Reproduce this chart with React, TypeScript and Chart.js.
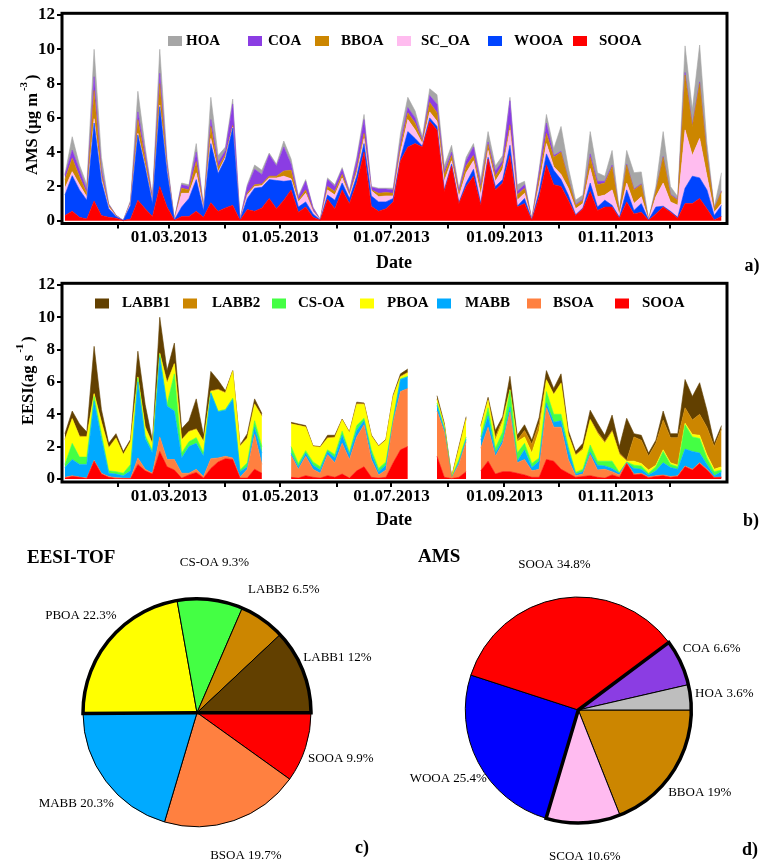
import React, { useEffect, useRef } from 'react';
import { Chart, registerables } from 'chart.js';

Chart.register(...registerables);

const FONT = "'Liberation Serif', 'Times New Roman', serif";

// ---- time axis (day of year 2013) ----
const FIRST_SAMPLE_DAY = 2; // 03.01.2013
const SAMPLE_STEP_DAYS = 4;
const MONTH_START_DAYS = [31, 59, 90, 120, 151, 181, 212, 243, 273, 304, 334];
const MONTH_TICK_LABELS = ['', '01.03.2013', '', '01.05.2013', '', '01.07.2013', '', '01.09.2013', '', '01.11.2013', ''];
const Y_TICKS = [0, 2, 4, 6, 8, 10, 12];

// ---- AMS factors (µg m-3) ----
const AMS_SOOA = [0.3,0.56,0.2,0.1,1.15,0.3,0.2,0.15,0.01,0.1, 1.2,0.7,0.25,2.0,0.8,0.03,0.25,0.25,0.56,0.2, 1.05,0.55,0.75,0.9,0.03,0.65,0.55,0.75,1.3,0.7, 1.2,1.8,0.5,0.8,0.2,0.03,1.25,0.7,1.8,1.0, 2.2,4.0,0.85,0.55,0.7,1.1,3.5,4.3,4.5,4.3, 5.8,5.3,1.7,3.2,1.0,2.0,2.6,0.9,3.6,1.8, 2.2,3.8,0.8,1.0,0.03,1.4,3.25,2.1,2.0,1.2, 0.3,0.7,1.7,0.6,0.8,0.8,0.15,1.1,0.4,0.5, 0.03,0.4,0.8,0.5,0.15,1.0,1.0,1.3,0.7,0.05, 0.25];
const AMS_WOOA = [1.2,2.07,1.6,1.1,4.55,2.0,0.5,0.1,0,0.8, 3.8,2.4,0.75,4.65,2.0,0.01,0.55,1.05,1.84,0.4, 3.45,2.2,2.85,4.5,0.01,0.65,1.35,1.2,1.1,1.65, 1.1,0.55,0.3,0.3,0.2,0.01,0.25,0.5,0.4,0.3, 0.4,0.5,0.6,0.55,0.4,0.2,0.15,0.9,0.3,0.05, 0.2,0.2,0.1,0.1,0.05,0.2,0.4,0.1,0.1,0.2, 0.2,0.6,0.05,0.3,0.01,0.3,0.65,0.85,0.4,0.3, 0.05,0.05,0.5,0.2,0.4,0.1,0.05,0.7,0.2,0.5, 0.01,0.4,0.05,0.05,0.05,0.9,1.6,1.2,1.1,0.25, 0.65];
const AMS_SC_OA = [0.4,0.23,0.3,0.18,0.25,0.15,0.1,0.03,0,0.1, 0.1,0.1,0.1,0.1,0.1,0.01,0.8,0.3,0.4,0.1, 0.3,0.1,0.1,0.05,0.01,0.2,0.1,0.1,0.1,0.15, 0.3,0.1,0.3,0.5,0.15,0.01,0.3,0.3,0.3,0.15, 0.2,0.3,0.3,0.3,0.35,0.15,0.35,0.7,0.5,0.15, 0.35,0.3,0.5,0.2,0.35,0.6,0.5,0.5,0.4,0.3, 0.6,0.9,0.35,0.3,0.01,0.4,0.6,0.2,0.3,0.4, 0.35,0.25,0.85,0.6,0.3,0.9,0.15,0.4,0.4,0.4, 0.01,0.6,1.35,0.55,0.7,3.4,1.2,2.3,0.8,0.2, 0.1];
const AMS_BBOA = [0.5,0.78,0.47,0.22,1.65,0.25,0.1,0.02,0,0.05, 0.8,0.4,0.1,1.25,0.2,0.01,0.3,0.2,0.65,0.05, 0.7,0.25,0.15,0.1,0.01,0.1,0.1,0.1,0.1,0.1, 0.3,0.5,0.1,0.2,0.05,0.01,0.2,0.2,0.2,0.1, 0.2,0.3,0.05,0.2,0.2,0.15,0.3,0.4,0.4,0.1, 0.55,0.5,0.4,0.3,0.2,0.4,0.3,0.4,0.35,0.3, 0.3,0.3,0.3,0.3,0.01,0.4,0.6,0.55,1.3,0.5, 0.2,0.2,0.65,0.7,0.7,1.35,0.15,1.05,0.8,0.7, 0.01,0.3,1.5,0.4,0.3,3.2,1.7,3.2,1.2,0.2, 0.7];
const AMS_COA = [0.25,0.48,0.39,0.2,0.8,0.3,0.05,0.02,0,0.05, 0.45,0.3,0.1,0.6,0.2,0.01,0.2,0.2,0.55,0.03, 0.4,0.3,0.25,1.25,0.01,0.4,0.9,0.55,1.25,0.6, 1.4,0.35,0.15,0.5,0.15,0.01,0.4,0.3,0.3,0.1, 0.5,0.8,0.15,0.25,0.2,0.2,0.3,0.3,0.3,0.1, 0.4,0.5,0.2,0.2,0.15,0.3,0.5,0.2,0.15,0.3, 0.2,1.4,0.2,0.2,0.01,0.3,0.6,0.1,0.05,0.05, 0.05,0.05,0.2,0.2,0.1,0.1,0.02,0.05,0.05,0.05, 0.01,0.02,0.05,0.05,0.05,0.15,0.1,0.1,0.05,0.02, 0.05];
const AMS_HOA = [0.05,0.78,0.29,0.3,1.6,0.7,0.05,0.01,0.01,0.1, 1.2,0.4,0.1,1.4,0.3,0.01,0.1,0.1,0.5,0.02, 1.3,0.4,0.2,0.3,0.01,0.1,0.25,0.25,0.1,0.1, 0.35,0.3,0.1,0.1,0.05,0.01,0.1,0.1,0.1,0.1, 0.2,0.3,0.05,0.05,0.05,0.1,0.5,0.6,0.4,0.2, 0.4,0.55,0.3,0.4,0.15,0.2,0.2,0.3,0.6,0.3, 0.3,0.2,0.4,0.2,0.01,0.2,0.5,0.4,1.45,0.65, 0.25,0.25,1.3,0.5,0.3,0.85,0.08,0.8,0.95,0.7, 0.01,0.28,1.45,0.45,0.15,1.55,0.9,2.15,0.65,0.08, 1.05];

// ---- EESI-TOF factors (ag s-1), null = no data ----
const EESI_SOOA = [0.05,0.15,0.1,0.02,1.1,0.3,0.1,0.03,0.02,0.02, 0.9,0.5,0.3,1.7,0.75,0.55,0.05,0.25,0.4,0.05, 0.65,1.05,1.25,1.2,0.05,0.05,0.6,0.35,null,null, null,0.1,0.05,0.2,0.1,0.05,0.2,0.1,0.3,0.05, 0.5,0.75,0.1,0.05,0.1,1.0,1.8,2.0,null,null, null,1.4,0.1,0.02,0.1,0.45,null,0.5,1.1,0.3, 0.45,0.45,0.35,0.25,0.1,0.1,1.2,1.1,0.6,0.35, 0.1,0.15,0.2,0.1,0.05,0.25,0.1,0.95,0.25,0.3, 0.08,0.15,0.2,0.1,0.15,0.75,0.55,0.95,0.55,0.08, 0.1];
const EESI_BSOA = [0.05,0.05,0.02,0.03,0.05,0.05,0.05,0.05,0.03,0.02, 0.4,0.1,0.05,0.9,0.45,0.65,0.3,0.1,0.2,0.1, 0.6,0.25,0.15,0.1,0.05,0.55,2.15,0.55,null,null, null,1.35,0.55,1.2,0.5,0.3,1.3,0.9,1.9,1.15, 2.1,2.6,1.1,0.2,0.45,2.5,3.6,3.6,null,null, null,2.8,2.8,0.03,0.8,1.85,null,1.4,2.1,1.1, 1.75,3.7,0.65,0.95,0.4,0.5,3.2,2.1,2.6,0.85, 0.1,0.15,1.3,0.45,0.55,0.2,0.15,0.05,0.05,0.05, 0.04,0.05,0.05,0.05,0.05,0.05,0.05,0.05,0.05,0.02, 0.02];
const EESI_MABB = [0.6,1.0,0.78,0.85,3.65,2.15,0.2,0.22,0.15,0.46, 4.7,1.9,1.25,4.9,3.3,3.0,0.95,1.65,1.6,1.25, 4.05,2.85,2.85,3.6,0.35,0.15,0.45,0.7,null,null, null,0.15,0.15,0.2,0.25,0.2,0.2,0.3,0.5,0.3, 0.4,0.25,0.35,0.2,0.3,0.1,0.75,0.7,null,null, null,0.35,0.15,0.01,0.15,0.15,null,0.5,0.7,0.2, 0.2,0.3,0.1,0.6,0.2,0.5,0.3,0.3,0.4,0.6, 0.1,0.15,0.15,0.3,0.2,0.2,0.1,0.02,0.35,0.25, 0.13,0.3,0.75,0.55,0.4,1.05,1.1,0.6,0.3,0.1, 0.33];
const EESI_CS_OA = [0.2,1.0,0.45,0.45,0.3,0.3,0.15,0.15,0.15,0.4, 0.25,0.2,0.15,0.2,0.1,2.3,0.3,0.3,0.35,0.2, 0.05,0.05,0.05,0.1,0.1,0.25,0.4,0.4,null,null, null,0.4,0.2,0.15,0.2,0.2,0.1,0.2,0.25,0.15, 0.3,0.15,0.25,0.2,0.2,0.15,0.05,0.05,null,null, null,0.15,0.1,0.01,0.15,0.15,null,0.2,0.5,0.3, 0.5,1.0,0.5,0.4,0.25,0.2,0.7,0.5,0.4,0.2, 0.1,0.15,0.45,0.25,0.3,0.45,0.05,0.03,0.2,0.2, 0.1,0.25,0.7,0.2,0.15,1.5,0.9,0.9,0.4,0.25, 0.1];
const EESI_PBOA = [1.5,1.5,1.25,1.25,0.15,0.7,1.4,2.05,1.15,1.4, 0.05,0.5,0.4,0.05,1.3,0.6,0.8,0.6,0.5,0.7, 0.05,1.3,1.0,1.65,1.45,1.5,1.0,1.85,null,null, null,1.4,2.35,1.45,0.95,1.2,0.7,1.05,0.7,1.2, 1.3,0.85,0.85,1.35,1.35,1.35,0.1,0.2,null,null, null,0.2,0.15,0.01,0.65,1.1,null,0.6,0.45,0.5, 0.65,0.05,0.7,0.4,0.65,1.7,0.7,1.2,1.9,0.7, 1.05,1.2,1.55,1.7,1.1,1.8,1.1,0.05,0.25,0.15, 0.2,0.1,0.1,0.1,0.1,0.1,0.15,0.2,0.2,0.15, 0.2];
const EESI_LABB2 = [0.05,0.05,0.05,0.02,0.05,0.05,0.05,0.05,0.02,0.02, 0.02,0.05,0.05,0.05,0.1,0.05,0.05,0.05,0.05,0.05, 0.05,0.05,0.05,0.03,0.05,0.05,0.05,0.05,null,null, null,0.02,0.02,0.02,0.02,0.02,0.05,0.05,0.02,0.02, 0.05,0.05,0.02,0.02,0.02,0.02,0.05,0.05,null,null, null,0.05,0.05,0.01,0.05,0.05,null,0.05,0.05,0.2, 0.15,0.05,0.1,0.4,0.55,0.45,0.05,0.05,0.05,0.05, 0.05,0.1,0.05,0.1,0.1,0.1,0.1,0.05,1.5,1.45, 0.85,1.35,1.85,1.55,1.7,0.95,0.9,1.3,1.7,1.4, 2.35];
const EESI_LABB1 = [0.35,0.45,0.75,0.28,2.9,0.75,0.25,0.25,0.18,0.13, 1.58,1.35,0.15,2.2,0.7,1.25,0.65,0.65,1.85,0.35, 1.2,0.55,0.1,0.02,0.05,0.25,0.3,0.15,null,null, null,0.08,0.08,0.08,0.03,0.03,0.15,0.1,0.03,0.03, 0.1,0.05,0.05,0.03,0.03,0.08,0.15,0.2,null,null, null,0.2,0.1,0.01,0.1,0.1,null,0.05,0.15,0.4, 0.15,0.8,0.3,0.35,0.25,0.35,0.55,0.35,0.55,0.25, 0.2,0.3,0.55,0.55,0.4,0.95,0.4,2.6,0.2,0.3, 0.2,0.2,0.55,0.25,0.25,1.75,1.45,1.95,1.05,0.2, 0.2];

// ---- pie charts (%) ----
const EESI_PIE_LABELS = ['SOOA', 'BSOA', 'MABB', 'PBOA', 'CS-OA', 'LABB2', 'LABB1'];
const EESI_PIE_VALUES = [9.9, 19.7, 20.3, 22.3, 9.3, 6.5, 12];
const AMS_PIE_LABELS = ['BBOA', 'SCOA', 'WOOA', 'SOOA', 'COA', 'HOA'];
const AMS_PIE_VALUES = [19, 10.6, 25.4, 34.8, 6.6, 3.6];

// ---- colours ----
const C = {
  hoa: '#a6a6a6', coa: '#8b3de3', bboa: '#cc8600', scoa: '#ffbcef', wooa: '#0044ff', sooa: '#ff0000',
  labb1: '#624000', labb2: '#cc8600', csoa: '#44ff44', pboa: '#ffff00', mabb: '#00aaff', bsoa: '#ff8040',
};

type Series = { label: string; values: (number | null)[]; color: string };

const AMS_SERIES: Series[] = [
  { label: 'SOOA', values: AMS_SOOA, color: C.sooa },
  { label: 'WOOA', values: AMS_WOOA, color: C.wooa },
  { label: 'SC_OA', values: AMS_SC_OA, color: C.scoa },
  { label: 'BBOA', values: AMS_BBOA, color: C.bboa },
  { label: 'COA', values: AMS_COA, color: C.coa },
  { label: 'HOA', values: AMS_HOA, color: C.hoa },
];
const EESI_SERIES: Series[] = [
  { label: 'SOOA', values: EESI_SOOA, color: C.sooa },
  { label: 'BSOA', values: EESI_BSOA, color: C.bsoa },
  { label: 'MABB', values: EESI_MABB, color: C.mabb },
  { label: 'CS-OA', values: EESI_CS_OA, color: C.csoa },
  { label: 'PBOA', values: EESI_PBOA, color: C.pboa },
  { label: 'LABB2', values: EESI_LABB2, color: C.labb2 },
  { label: 'LABB1', values: EESI_LABB1, color: C.labb1 },
];

function areaDatasets(series: Series[]) {
  return series.map((s, i) => ({
    label: s.label,
    data: s.values.map((v, k) => ({ x: FIRST_SAMPLE_DAY + SAMPLE_STEP_DAYS * k, y: v })),
    backgroundColor: s.color,
    borderColor: s.color,
    borderWidth: 0.6,
    pointRadius: 0,
    tension: 0,
    spanGaps: false,
    fill: i === 0 ? 'origin' : '-1',
  }));
}

type AreaDecor = {
  legend: { label: string; color: string; sx: number; tx: number }[];
  legendY: number;
  yMain: string; ySup: string; yX: number; yY: number;
  xTitleX: number; xTitleY: number;
  tag: string; tagX: number; tagY: number;
};

function areaDecorPlugin(cfg: AreaDecor) {
  return {
    id: 'areaDecor',
    afterDraw(chart: any) {
      const { ctx, chartArea: a } = chart;
      ctx.save();
      ctx.strokeStyle = '#000';
      ctx.lineWidth = 3;
      ctx.strokeRect(a.left, a.top, a.right - a.left, a.bottom - a.top);
      ctx.font = `bold 15px ${FONT}`;
      ctx.textBaseline = 'middle';
      ctx.textAlign = 'left';
      cfg.legend.forEach((it) => {
        ctx.fillStyle = it.color;
        ctx.fillRect(it.sx, cfg.legendY - 5, 14, 10);
        ctx.fillStyle = '#000';
        ctx.fillText(it.label, it.tx, cfg.legendY);
      });
      ctx.font = `bold 18px ${FONT}`;
      ctx.textAlign = 'center';
      ctx.fillText('Date', cfg.xTitleX, cfg.xTitleY);
      ctx.fillText(cfg.tag, cfg.tagX, cfg.tagY);
      ctx.translate(cfg.yX, cfg.yY);
      ctx.rotate(-Math.PI / 2);
      ctx.textAlign = 'left';
      ctx.textBaseline = 'alphabetic';
      ctx.font = `bold 16.5px ${FONT}`;
      ctx.fillText(cfg.yMain, 0, 0);
      const w = ctx.measureText(cfg.yMain).width;
      ctx.font = `bold 11px ${FONT}`;
      ctx.fillText(cfg.ySup, w + 2, -10);
      const w2 = ctx.measureText(cfg.ySup).width;
      ctx.font = `bold 16.5px ${FONT}`;
      ctx.fillText(')', w + w2 + 4, 0);
      ctx.restore();
    },
  };
}

function areaConfig(series: Series[], yMin: number, yMax: number, padTop: number, xHeight: number, decor: AreaDecor) {
  const tickFont = { size: 17, weight: 'bold' as const, family: FONT };
  return {
    type: 'line' as const,
    data: { datasets: areaDatasets(series) },
    options: {
      animation: false as const,
      responsive: false,
      devicePixelRatio: 1,
      layout: { padding: { left: 0, top: padTop, right: 35, bottom: 0 } },
      plugins: { legend: { display: false }, tooltip: { enabled: false } },
      scales: {
        x: {
          type: 'linear' as const,
          min: 0.4,
          max: 365,
          afterBuildTicks: (s: any) => { s.ticks = MONTH_START_DAYS.map((v) => ({ value: v })); },
          afterFit: (s: any) => { s.height = xHeight; },
          ticks: { autoSkip: false, maxRotation: 0, color: '#000', font: tickFont, padding: -1,
            callback: (_v: any, i: number) => MONTH_TICK_LABELS[i] },
          grid: { display: true, drawOnChartArea: false, drawTicks: true, tickLength: 5, color: '#000', lineWidth: 2 },
          border: { display: false },
        },
        y: {
          stacked: true,
          min: yMin,
          max: yMax,
          afterBuildTicks: (s: any) => { s.ticks = Y_TICKS.map((v) => ({ value: v })); },
          afterFit: (s: any) => { s.width = 62; },
          ticks: { color: '#000', font: tickFont, padding: 2, callback: (v: any) => String(v) },
          grid: { display: true, drawOnChartArea: false, drawTicks: true, tickLength: 5, color: '#000', lineWidth: 2 },
          border: { display: false },
        },
      },
    },
    plugins: [areaDecorPlugin(decor)],
  };
}

type PieDecor = {
  title: string; titleX: number; titleY: number;
  tag: string; tagX: number; tagY: number;
  groupFrom: number; groupTo: number; labelRadius: number;
};

function pieDecorPlugin(cfg: PieDecor) {
  return {
    id: 'pieDecor',
    afterDraw(chart: any) {
      const { ctx } = chart;
      const arcs = chart.getDatasetMeta(0).data as any[];
      const labels = chart.data.labels as string[];
      const values = chart.data.datasets[0].data as number[];
      ctx.save();
      const f = arcs[cfg.groupFrom];
      const l = arcs[cfg.groupTo];
      const cx = f.x, cy = f.y, r = f.outerRadius;
      const s = f.startAngle;
      let e = l.endAngle;
      if (e <= s) e += Math.PI * 2;
      ctx.beginPath();
      ctx.moveTo(cx, cy);
      ctx.lineTo(cx + Math.cos(s) * r, cy + Math.sin(s) * r);
      ctx.arc(cx, cy, r, s, e);
      ctx.closePath();
      ctx.lineWidth = 3.5;
      ctx.lineJoin = 'miter';
      ctx.strokeStyle = '#000';
      ctx.stroke();
      ctx.fillStyle = '#000';
      ctx.font = `13px ${FONT}`;
      ctx.textAlign = 'center';
      ctx.textBaseline = 'middle';
      arcs.forEach((arc, i) => {
        const mid = (arc.startAngle + arc.endAngle) / 2;
        const rr = arc.outerRadius * cfg.labelRadius;
        ctx.fillText(`${labels[i]} ${values[i]}%`, arc.x + Math.cos(mid) * rr, arc.y + Math.sin(mid) * rr);
      });
      ctx.font = `bold 19px ${FONT}`;
      ctx.textAlign = 'left';
      ctx.fillText(cfg.title, cfg.titleX, cfg.titleY);
      ctx.textAlign = 'center';
      ctx.font = `bold 18px ${FONT}`;
      ctx.fillText(cfg.tag, cfg.tagX, cfg.tagY);
      ctx.restore();
    },
  };
}

function pieConfig(labels: string[], values: number[], colors: string[], padding: any, decor: PieDecor) {
  return {
    type: 'pie' as const,
    data: { labels, datasets: [{ data: values, backgroundColor: colors, borderColor: '#000', borderWidth: 1 }] },
    options: {
      animation: false as const,
      responsive: false,
      devicePixelRatio: 1,
      rotation: 90,
      layout: { padding },
      plugins: { legend: { display: false }, tooltip: { enabled: false } },
    },
    plugins: [pieDecorPlugin(decor)],
  };
}

export default function App() {
  const aRef = useRef<HTMLCanvasElement>(null);
  const bRef = useRef<HTMLCanvasElement>(null);
  const cRef = useRef<HTMLCanvasElement>(null);
  const dRef = useRef<HTMLCanvasElement>(null);

  useEffect(() => {
    Chart.defaults.font.family = FONT;
    Chart.defaults.color = '#000';
    const charts: Chart[] = [];

    charts.push(new Chart(aRef.current!, areaConfig(AMS_SERIES, -0.16, 12.1, 13.3, 56.5, {
      legend: [
        { label: 'HOA', color: C.hoa, sx: 168, tx: 186 },
        { label: 'COA', color: C.coa, sx: 248, tx: 268 },
        { label: 'BBOA', color: C.bboa, sx: 315, tx: 341 },
        { label: 'SC_OA', color: C.scoa, sx: 397, tx: 421 },
        { label: 'WOOA', color: C.wooa, sx: 488, tx: 514 },
        { label: 'SOOA', color: C.sooa, sx: 573, tx: 599 },
      ],
      legendY: 41,
      yMain: 'AMS (µg m', ySup: '-3', yX: 36.5, yY: 175,
      xTitleX: 394, xTitleY: 263,
      tag: 'a)', tagX: 752, tagY: 266,
    }) as any));

    charts.push(new Chart(bRef.current!, areaConfig(EESI_SERIES, -0.19, 12.1, 13.3, 53, {
      legend: [
        { label: 'LABB1', color: C.labb1, sx: 95, tx: 122 },
        { label: 'LABB2', color: C.labb2, sx: 183, tx: 212 },
        { label: 'CS-OA', color: C.csoa, sx: 272, tx: 298 },
        { label: 'PBOA', color: C.pboa, sx: 360, tx: 387 },
        { label: 'MABB', color: C.mabb, sx: 437, tx: 465 },
        { label: 'BSOA', color: C.bsoa, sx: 527, tx: 553 },
        { label: 'SOOA', color: C.sooa, sx: 615, tx: 642 },
      ],
      legendY: 33.5,
      yMain: 'EESI(ag s', ySup: '-1', yX: 32.5, yY: 155,
      xTitleX: 394, xTitleY: 250,
      tag: 'b)', tagX: 751, tagY: 251,
    }) as any));

    charts.push(new Chart(cRef.current!, pieConfig(
      EESI_PIE_LABELS, EESI_PIE_VALUES,
      [C.sooa, C.bsoa, C.mabb, C.pboa, C.csoa, C.labb2, C.labb1],
      { left: 82.5, top: 63.2, right: 69.5, bottom: 38.8 },
      { title: 'EESI-TOF', titleX: 27, titleY: 23, tag: 'c)', tagX: 362, tagY: 313, groupFrom: 3, groupTo: 6, labelRadius: 1.325 },
    ) as any));

    charts.push(new Chart(dRef.current!, pieConfig(
      AMS_PIE_LABELS, AMS_PIE_VALUES,
      [C.bboa, '#ffbbf0', '#0000ff', C.sooa, C.coa, '#bebebe'],
      { left: 83.8, top: 61.5, right: 70.2, bottom: 42.5 },
      { title: 'AMS', titleX: 37, titleY: 22, tag: 'd)', tagX: 369, tagY: 315, groupFrom: 4, groupTo: 1, labelRadius: 1.3 },
    ) as any));

    return () => charts.forEach((c) => c.destroy());
  }, []);

  const abs = (left: number, top: number): React.CSSProperties => ({ position: 'absolute', left, top, display: 'block' });

  return (
    <div style={{ position: 'absolute', left: 0, top: 0, width: 762, height: 866, background: '#fff', overflow: 'hidden' }}>
      <canvas ref={aRef} width={762} height={280} style={abs(0, 0)} />
      <canvas ref={bRef} width={762} height={265} style={abs(0, 270)} />
      <canvas ref={cRef} width={381} height={331} style={abs(0, 535)} />
      <canvas ref={dRef} width={381} height={331} style={abs(381, 535)} />
    </div>
  );
}
